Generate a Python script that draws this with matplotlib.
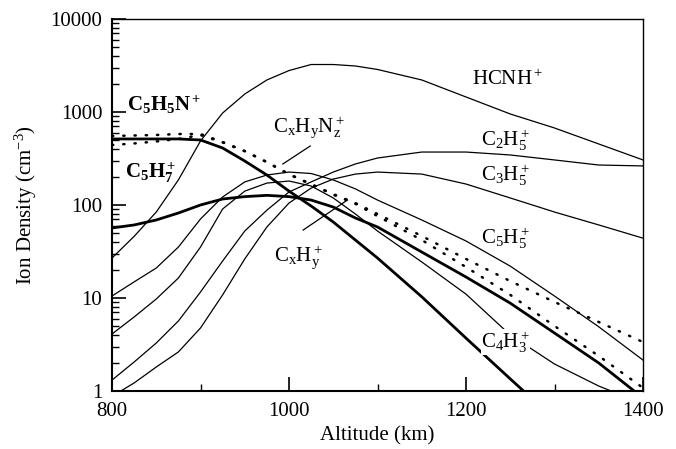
import matplotlib
matplotlib.use('Agg')
import matplotlib.pyplot as plt

plt.rcParams['font.family'] = ['Liberation Serif', 'DejaVu Serif']
plt.rcParams['mathtext.fontset'] = 'custom'
plt.rcParams['mathtext.rm'] = 'Liberation Serif'
plt.rcParams['mathtext.it'] = 'Liberation Serif:italic'
plt.rcParams['mathtext.bf'] = 'Liberation Serif:bold'

# altitude grid (km)
alt = [800, 825, 850, 875, 900, 925, 950, 975, 1000, 1025, 1050, 1075, 1100,
       1150, 1200, 1250, 1300, 1350, 1400]

hcnh = [26.9, 46, 84, 186, 488, 975, 1560, 2210, 2790, 3240, 3240, 3125, 2865,
        2210, 1450, 952, 673, 453, 305]
c2h5 = [1.31, 2.05, 3.28, 5.66, 11.6, 25, 52.5, 88, 138, 177, 226, 276, 320,
        371, 371, 345, 305, 269, 263]
c5h5 = [10.5, 14.9, 21, 35.3, 70.7, 122, 177, 210, 226, 218, 186, 149, 113,
        69, 41, 22, 10.5, 4.9, 2.15]
cxhynz = [552, 559, 566, 580, 580, 476, 381, 290, 215, 168, 131, 105, 80,
          46.4, 26.3, 15.2, 9.06, 5.52, 3.36]
cxhy = [442, 459, 482, 513, 565, 470, 378, 288, 213, 166, 129, 103, 76,
        42, 21.5, 10.8, 5.0, 2.38, 1.08]

alt_c3h5 = [810, 825, 850, 875, 900, 925, 950, 975, 1000, 1025, 1050, 1075, 1100,
            1150, 1200, 1250, 1300, 1350, 1400]
c3h5 = [1.0, 1.22, 1.81, 2.63, 4.76, 10.8, 26.3, 58, 105, 152, 190, 215, 226,
        215, 168, 119, 84, 61, 44]

alt_c4h3 = [800, 825, 850, 875, 900, 925, 950, 975, 1000, 1025, 1050, 1075, 1100,
            1150, 1200, 1250, 1300, 1350, 1364]
c4h3 = [4.1, 6.25, 9.75, 16.4, 35.3, 90.6, 141, 172, 181, 160, 119, 80, 52.5,
        24.4, 11.0, 4.0, 1.95, 1.13, 1.0]

alt_c5h5n = [800, 825, 850, 875, 900, 925, 950, 975, 1000, 1025, 1050, 1075, 1100,
             1150, 1200, 1250, 1265]
c5h5n = [513, 513, 513, 513, 500, 410, 297, 210, 141, 97.5, 65.6, 42, 26.9,
         10.3, 3.7, 1.35, 1.0]

alt_c5h7 = [800, 825, 850, 875, 900, 925, 950, 975, 1000, 1025, 1050, 1075, 1100,
            1150, 1200, 1250, 1300, 1350, 1390]
c5h7 = [56.6, 61, 69, 82, 100, 116, 123, 127, 123, 113, 95, 72.5, 58,
        31.2, 16.8, 8.8, 4.2, 2.0, 1.0]

fig = plt.figure(figsize=(6.76, 4.49), dpi=100)
ax = fig.add_axes([0.1657, 0.1292, 0.7855, 0.8285])

thin = dict(color='black', lw=0.9)
thick = dict(color='black', lw=2.0)
dot = dict(color='black', lw=1.8, linestyle=(0, (0.5, 4.0)), dash_capstyle='round')

ax.plot(alt, hcnh, **thin)
ax.plot(alt, c2h5, **thin)
ax.plot(alt_c3h5, c3h5, **thin)
ax.plot(alt, c5h5, **thin)
ax.plot(alt_c4h3, c4h3, **thin)
ax.plot(alt_c5h5n, c5h5n, **thick)
ax.plot(alt_c5h7, c5h7, **thick)
ax.plot(alt, cxhynz, **dot)
ax.plot(alt, cxhy, **dot)

ax.set_yscale('log')
ax.set_xlim(800, 1400)
ax.set_ylim(1, 10000)
ax.set_xticks([800, 1000, 1200, 1400])
ax.set_xticks([900, 1100, 1300], minor=True)
ax.set_yticks([1, 10, 100, 1000, 10000])
ax.set_yticklabels(['1', '10', '100', '1000', '10000'])
ax.tick_params(which='both', direction='in', top=False, right=False, labelsize=15)
ax.tick_params(which='major', length=10, width=1.2)
ax.tick_params(which='minor', length=5, width=1.0)
ax.tick_params(axis='x', which='major', pad=8)
ax.tick_params(axis='y', which='major', pad=7)
for s in ['left', 'bottom']:
    ax.spines[s].set_linewidth(1.5)
for s in ['top', 'right']:
    ax.spines[s].set_linewidth(1.0)

ax.set_xlabel('Altitude (km)', fontsize=15, labelpad=4)
ax.set_ylabel('Ion Density (cm$^{-3}$)', fontsize=15, labelpad=8)

fs = 15
ax.text(1247, 2210, r'$\mathrm{HCNH^+}$', fontsize=fs, ha='center', va='center')
ax.text(1244, 500, r'$\mathrm{C_2H_5^+}$', fontsize=fs, ha='center', va='center')
ax.text(1244, 210, r'$\mathrm{C_3H_5^+}$', fontsize=fs, ha='center', va='center')
ax.text(1244, 44, r'$\mathrm{C_5H_5^+}$', fontsize=fs, ha='center', va='center')
ax.text(1245, 3.36, r'$\mathrm{C_4H_3^+}$', fontsize=fs, ha='center', va='center',
        bbox=dict(facecolor='white', edgecolor='none', pad=0))
ax.text(1011, 27.6, r'$\mathrm{C_xH_y^+}$', fontsize=fs, ha='center', va='center')
ax.text(1023, 690, r'$\mathrm{C_xH_yN_z^+}$', fontsize=fs, ha='center', va='center')
ax.text(859, 1190, r'$\mathbf{C_5H_5N^+}$', fontsize=fs, ha='center', va='center')
ax.text(843, 221, r'$\mathbf{C_5H_7^+}$', fontsize=fs, ha='center', va='center')

# leader lines
ax.plot([993, 1024], [276, 431], color='black', lw=0.9)
ax.plot([1016, 1066], [53.8, 113], color='black', lw=0.9)

fig.savefig('out.png', dpi=100)
